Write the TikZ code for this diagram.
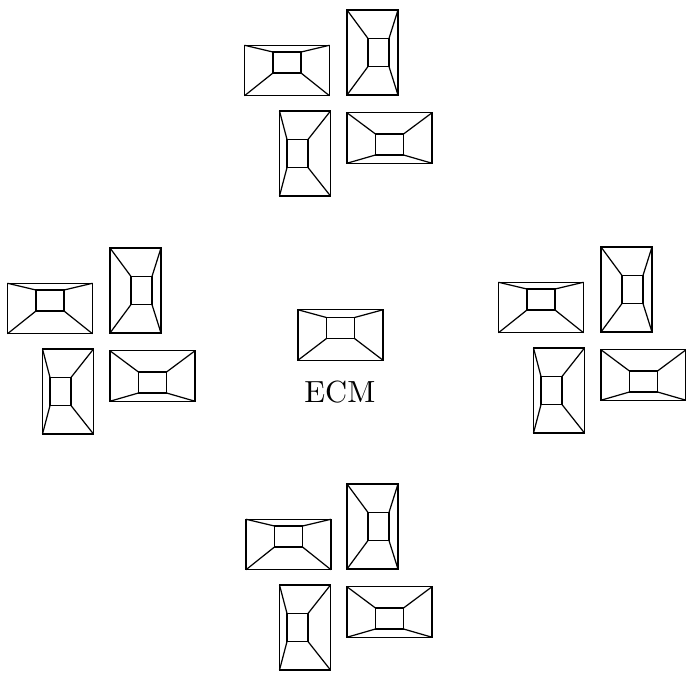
\documentclass[tikz,border=0pt]{standalone}
\usepackage{amsmath,amssymb}
\usetikzlibrary{calc,positioning}
\tikzset{
  wide/.style={draw,inner sep=0pt,outer sep=0pt,minimum width=0.977cm,minimum height=0.58cm},
  tall/.style={draw,inner sep=0pt,outer sep=0pt,minimum width=0.586cm,minimum height=0.977cm},
  wideport/.style={draw,inner sep=0pt,outer sep=0pt,minimum width=0.322cm,minimum height=0.241cm},
  tallport/.style={draw,inner sep=0pt,outer sep=0pt,minimum width=0.241cm,minimum height=0.322cm}
}
% one chamber: outer box, inner port, four corner lines
\newcommand{\chamber}[4]{%
  \node[#1] (#2) at (#3) {};
  \node[#1port] (#2p) at ($(#2)+(#4)$) {};
  \foreach \corner in {north west,north east,south west,south east}
    \draw (#2.\corner) -- (#2p.\corner);
}
\begin{document}
\begin{tikzpicture}[x=0.01149cm,y=-0.01149cm]
    \useasboundingbox (0,0) rectangle (686,679);
    \foreach \grp/\gx/\gy/\ax in {top/0/0/0,left/-237/238/0,right/254/237/0,bottom/0/474/1.5}{
      \chamber{wide}{\grp a}{\gx+\ax+287,\gy+70.5}{0,-8}
      \chamber{tall}{\grp b}{\gx+372.5,\gy+52.5}{6,0}
      \chamber{tall}{\grp c}{\gx+305,\gy+153.5}{-7.5,0}
      \chamber{wide}{\grp d}{\gx+389.5,\gy+138}{0,6.5}
    }
    \chamber{wide}{ecm}{340.5,335}{0,-7}
    \node[below=6.7pt of ecm,xshift=-0.2pt,inner sep=0pt] (ecmlabel) {ECM};
  \end{tikzpicture}
\end{document}
